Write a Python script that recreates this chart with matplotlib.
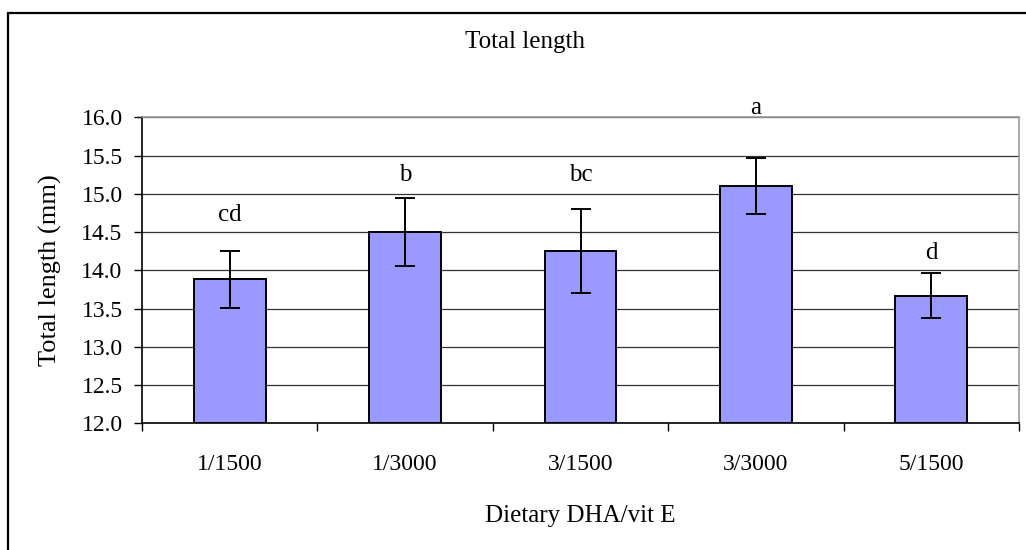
import numpy as np
import matplotlib
matplotlib.use('Agg')
import matplotlib.pyplot as plt
from matplotlib.patches import Rectangle

plt.rcParams['font.family'] = ['Liberation Serif', 'DejaVu Serif']

# data
groups = ['1/1500', '1/3000', '3/1500', '3/3000', '5/1500']
means = [13.88, 14.50, 14.25, 15.10, 13.67]
errs = [0.37, 0.44, 0.55, 0.37, 0.29]
letters = ['cd', 'b', 'bc', 'a', 'd']
letter_y = [14.72, 15.24, 15.24, 16.12, 14.23]

fig = plt.figure(figsize=(10.26, 5.5), dpi=100)
ax = fig.add_axes([0.1384, 0.2304, 0.8548, 0.5563])

x = np.arange(len(groups))
ax.bar(x, np.array(means) - 12, bottom=12, width=0.41, color='#9999FF',
       edgecolor='black', linewidth=1.4, zorder=3)
ax.errorbar(x, means, yerr=errs, fmt='none', ecolor='black', elinewidth=1.4,
            capsize=7, capthick=1.4, zorder=4)

for xi, lab, ly in zip(x, letters, letter_y):
    ax.text(xi, ly, lab, ha='center', va='center', fontsize=18, clip_on=False)

ax.set_xlim(-0.5, len(groups) - 0.5)
ax.set_ylim(12, 16)
ax.set_yticks(np.arange(12, 16.01, 0.5))
ax.set_yticklabels(['%.1f' % v for v in np.arange(12, 16.01, 0.5)])
ax.yaxis.grid(True, color='#333333', linewidth=0.9, zorder=0)

# category ticks sit between groups, labels in the middle
ax.set_xticks(np.arange(-0.5, len(groups), 1.0))
ax.set_xticklabels([])
ax.set_xticks(x, minor=True)
ax.set_xticklabels(groups, minor=True)
ax.tick_params(axis='x', which='minor', length=0, pad=22, labelsize=17)
ax.tick_params(axis='x', which='major', direction='out', length=6, width=1)
ax.tick_params(axis='y', direction='out', length=6, width=1, labelsize=17, pad=8)

for s in ['top', 'right']:
    ax.spines[s].set_color('#999999')
    ax.spines[s].set_linewidth(1.2)
ax.spines['left'].set_linewidth(1.2)
ax.spines['bottom'].set_linewidth(1.2)

ax.set_xlabel('Dietary DHA/vit E', fontsize=18, labelpad=22)
ax.set_ylabel('Total length (mm)', fontsize=19, labelpad=14)
fig.text(0.512, 0.923, 'Total length', ha='center', va='center', fontsize=18)

# outer chart border
fig.patches.append(Rectangle((8 / 1026, -0.05), 1.2, (537 + 0.05 * 550) / 550,
                             transform=fig.transFigure, fill=False,
                             edgecolor='black', linewidth=1.6))

fig.savefig('out.png', dpi=100)
